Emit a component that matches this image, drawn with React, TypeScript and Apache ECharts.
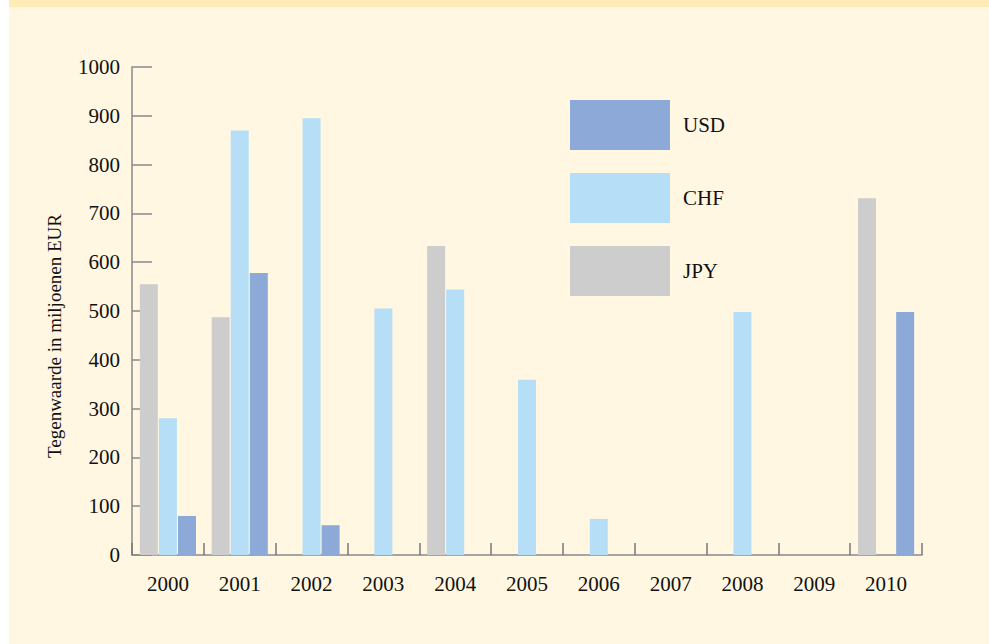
import React, { useEffect, useRef } from "react";
import * as echarts from "echarts";

const years = ["2000", "2001", "2002", "2003", "2004", "2005", "2006", "2007", "2008", "2009", "2010"];
const jpy = [555, 487, 0, 0, 633, 0, 0, 0, 0, 0, 731];
const chf = [280, 870, 895, 505, 544, 359, 74, 0, 498, 0, 0];
const usd = [80, 578, 61, 0, 0, 0, 0, 0, 0, 0, 498];
const seriesNames = ["JPY", "CHF", "USD"];
const legendOrder = ["USD", "CHF", "JPY"];
const yTicks = [0, 100, 200, 300, 400, 500, 600, 700, 800, 900, 1000];
const yAxisName = "Tegenwaarde in miljoenen EUR";

const colors: Record<string, string> = { JPY: "#cdcdcd", CHF: "#b6dff7", USD: "#8da9d8" };
const FONT = "'Liberation Serif', 'Times New Roman', serif";

export default function App() {
  const ref = useRef<HTMLDivElement>(null);
  useEffect(() => {
    document.body.style.margin = "0";
    const chart = echarts.init(ref.current!, null, { renderer: "svg" });
    const values = [jpy, chf, usd];
    chart.setOption({
      animation: false,
      backgroundColor: "#ffffff",
      textStyle: { fontFamily: FONT },
      graphic: [
        { type: "rect", z: -10, shape: { x: 9, y: 0, width: 980, height: 644 }, style: { fill: "#fff7e2" } },
        { type: "rect", z: -9, shape: { x: 9, y: 0, width: 980, height: 7 }, style: { fill: "#ffebb5" } },
        {
          type: "text",
          x: 54,
          y: 336,
          rotation: Math.PI / 2,
          style: {
            text: yAxisName,
            font: `19px ${FONT}`,
            fill: "#111",
            align: "center",
            verticalAlign: "middle",
          },
        },
      ],
      legend: {
        orient: "vertical",
        left: 570,
        top: 100,
        padding: 0,
        icon: "rect",
        itemWidth: 100,
        itemHeight: 50,
        itemGap: 23,
        data: legendOrder,
        textStyle: { fontSize: 21, color: "#111", fontFamily: FONT, padding: [0, 0, 0, 8] },
      },
      grid: { left: 132, right: 67, top: 67, bottom: 89, containLabel: false },
      xAxis: {
        type: "category",
        data: years,
        axisLine: { lineStyle: { color: "#8a8a8a", width: 1.5 } },
        axisTick: { show: true, inside: true, length: 12, interval: 0, lineStyle: { color: "#777", width: 1.5 } },
        axisLabel: { margin: 18, fontSize: 21, color: "#111", fontFamily: FONT },
      },
      yAxis: {
        type: "value",
        min: 0,
        max: 1000,
        interval: 100,
        axisLine: { show: true, lineStyle: { color: "#8a8a8a", width: 1.5 } },
        axisTick: { show: true, inside: true, length: 20, lineStyle: { color: "#8a8a8a", width: 1.5 } },
        splitLine: { show: false },
        axisLabel: {
          margin: 12,
          fontSize: 21,
          color: "#111",
          fontFamily: FONT,
          formatter: (v: number) => (yTicks.includes(v) ? String(v) : ""),
        },
      },
      series: seriesNames.map((name, i) => ({
        name,
        type: "bar",
        data: values[i],
        barWidth: 18,
        barGap: "6%",
        barCategoryGap: "21%",
        itemStyle: { color: colors[name] },
      })),
    });
    return () => chart.dispose();
  }, []);
  return <div ref={ref} style={{ width: 989, height: 644 }} />;
}
